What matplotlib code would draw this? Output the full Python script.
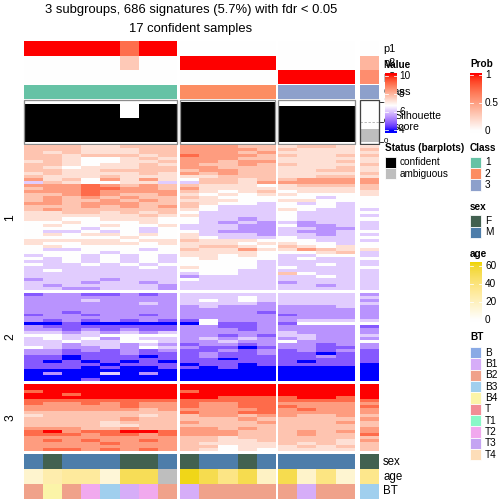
import numpy as np
import matplotlib
matplotlib.use("Agg")
import matplotlib.pyplot as plt
from matplotlib.colors import ListedColormap, Normalize
from matplotlib.patches import Rectangle

plt.rcParams['font.family'] = ['Liberation Sans', 'DejaVu Sans']

# ---------------- data ----------------
group_sizes = [8, 5, 4, 1]          # subgroup 1, 2, 3, ambiguous
sample_class = [1]*8 + [2]*5 + [3]*4 + [3]
p1 = [1, 1, 1, 1, 1, 0.72, 1, 1, 0, 0, 0, 0, 0, 0, 0, 0, 0, 0.0]
p2 = [0, 0, 0, 0, 0, 0.28, 0, 0, 1, 1, 1, 1, 1, 0, 0, 0, 0, 0.38]
p3 = [0, 0, 0, 0, 0, 0, 0, 0, 0, 0, 0, 0, 0, 1, 1, 1, 1, 0.58]
silhouette = [0.95, 0.95, 0.95, 0.95, 0.95, 0.60, 0.95, 0.95,
              1.0, 1.0, 1.0, 1.0, 1.0, 0.90, 0.90, 0.90, 0.90, 0.32]
status = ['confident']*17 + ['ambiguous']
sex = ['M', 'F', 'M', 'M', 'M', 'F', 'F', 'M', 'F', 'M', 'M', 'F', 'M', 'M', 'M', 'M', 'M', 'F']
age = [15, 25, 30, 30, 12, 50, 50, np.nan, 62, 52, 37, 52, 18, 52, 16, 38, 14, 35]
bt = ['B2', 'B4', 'B2', 'T2', 'B3', 'B1', 'T2', 'B2', 'B1', 'B2', 'B2', 'B2', 'B2',
      'B2', 'B1', 'B2', 'B2', 'B3']

# heatmap: each digit is an estimated value level (see level_values), groups split by spaces
level_values = [4.0, 4.75, 5.45, 6.1, 6.67, 7.2, 7.7, 8.35, 9.1, 10.0]
cluster1_rows = [
    "66655666 77766 5665 5", "66655566 77776 6555 6", "65655566 77767 5555 5",
    "66566656 87776 6556 6", "66544565 77766 5555 5", "56544556 77677 5556 5",
    "66545565 76676 6555 6", "65455566 77666 5556 5", "66556666 67766 5566 5",
    "56555565 76766 5555 6", "65556555 55666 5566 5", "75647575 46656 6777 7",
    "36544553 36657 7777 7", "77787676 65554 5666 6", "67788776 75555 5555 6",
    "77787777 65456 4555 5", "66787667 54545 5444 5", "67676766 65444 4434 4",
    "67667676 55544 5544 4", "77677766 65443 4343 4", "66676767 64333 4443 4",
    "67666666 54333 5433 3", "55665656 43333 4333 4", "55555565 53333 4333 3",
    "55445554 43323 4333 4", "44544454 43232 3233 3", "45445445 33322 4223 3",
    "44434434 33322 3322 3", "43343434 43222 3223 4", "45455454 53332 3323 3",
    "44444544 54333 4333 4", "55555455 65554 4433 3", "54455545 55545 5443 4",
    "45444444 56654 6545 4", "43344434 65575 5765 5", "44443444 55554 4456 3",
    "34434343 55454 3344 3", "43434343 45444 3433 4", "33434343 44443 3333 3",
    "43343434 44443 3343 3", "33333343 54443 4333 4", "34333333 44433 3333 3",
    "33333333 34433 6433 3", "33333333 23333 3343 3", "23332333 43333 3333 3",
    "33323323 33333 2333 3", "32333332 33333 3323 3", "33223332 33333 3333 3",
]
cluster2_rows = [
    "12211212 33333 3333 2", "22222222 33343 3333 3", "22232222 34343 3333 2",
    "22222232 33332 3333 3", "22222222 23222 2223 2", "22222222 22222 2222 2",
    "22122222 22221 2222 2", "12212212 22222 1222 2", "22222222 22222 2222 2",
    "21212121 14222 2333 3", "00100000 04112 1444 4", "21111111 22112 2222 1",
    "22121211 22212 2222 2", "33232323 22222 3222 2", "44334444 22121 3322 3",
    "34342433 23232 2322 2", "33433443 22322 4222 4", "33233232 12212 2212 2",
    "43223243 21101 2211 2", "22121212 11212 1212 1", "22111211 12112 1101 1",
    "11011101 12111 1121 1", "11011111 11011 1111 1", "10101010 11111 1011 1",
    "11110111 01101 1111 0", "11101001 10100 0000 0", "00000000 00000 0000 0",
    "02003020 00000 0000 0", "00000000 00000 0000 0", "00010000 00000 0000 0",
]
cluster3_rows = [
    "99999999 99999 9999 9", "99999999 99999 9999 9", "89999999 89999 9999 9",
    "99899999 99999 9999 9", "99999999 99888 8998 9", "88888888 88888 8888 8",
    "87787877 87788 7777 7", "77777877 87788 8777 8", "77777767 77778 7877 7",
    "66666666 87788 7777 7", "56666656 67767 7667 6", "66666766 66676 6666 7",
    "66665666 76667 6667 6", "66665566 66666 6666 6", "77766766 77676 6666 7",
    "89788998 77766 6767 7", "88878878 77766 6766 8", "77777777 66566 6666 6",
    "78787787 66556 6665 7", "77778777 65555 6565 6", "77777777 66455 5656 6",
    "78878787 65454 5555 6",
]

class_colors = {1: '#66C2A5', 2: '#FC8D62', 3: '#8DA0CB'}
status_colors = {'confident': '#000000', 'ambiguous': '#BEBEBE'}
sex_colors = {'F': '#426150', 'M': '#4D7DAA'}
bt_levels = ['B', 'B1', 'B2', 'B3', 'B4', 'T', 'T1', 'T2', 'T3', 'T4']
bt_colors = {'B': '#8AAAE5', 'B1': '#D6ADF8', 'B2': '#F0A28A', 'B3': '#A0CFEE',
             'B4': '#FBF4A8', 'T': '#F28D96', 'T1': '#8AF8C8', 'T2': '#F1A9EE',
             'T3': '#C4A4F2', 'T4': '#FDDDB8'}

# ---------------- LAB colour ramps ----------------
_M = np.array([[0.4124564, 0.3575761, 0.1804375],
               [0.2126729, 0.7151522, 0.0721750],
               [0.0193339, 0.1191920, 0.9503041]])
_WHITE = np.array([0.95047, 1.0, 1.08883])


def srgb_to_lab(rgb):
    rgb = np.asarray(rgb, float)
    lin = np.where(rgb <= 0.04045, rgb / 12.92, ((rgb + 0.055) / 1.055) ** 2.4)
    t = (lin @ _M.T) / _WHITE
    d = 6 / 29
    f = np.where(t > d ** 3, np.cbrt(t), t / (3 * d * d) + 4 / 29)
    return np.stack([116 * f[..., 1] - 16, 500 * (f[..., 0] - f[..., 1]),
                     200 * (f[..., 1] - f[..., 2])], -1)


def lab_to_srgb(lab):
    fy = (lab[..., 0] + 16) / 116
    f = np.stack([fy + lab[..., 1] / 500, fy, fy - lab[..., 2] / 200], -1)
    d = 6 / 29
    t = np.where(f > d, f ** 3, 3 * d * d * (f - 4 / 29))
    lin = np.clip((t * _WHITE) @ np.linalg.inv(_M).T, 0, 1)
    rgb = np.where(lin <= 0.0031308, 12.92 * lin, 1.055 * lin ** (1 / 2.4) - 0.055)
    return np.clip(rgb, 0, 1)


def hex2rgb(h):
    h = h.lstrip('#')
    return [int(h[i:i + 2], 16) / 255 for i in (0, 2, 4)]


def lab_cmap(positions, colors, n=256):
    labs = srgb_to_lab(np.array([hex2rgb(c) for c in colors]))
    xs = np.linspace(0, 1, n)
    out = np.zeros((n, 3))
    for i, x in enumerate(xs):
        j = np.searchsorted(positions, x, side='right') - 1
        j = min(max(j, 0), len(positions) - 2)
        t = (x - positions[j]) / (positions[j + 1] - positions[j])
        out[i] = labs[j] * (1 - t) + labs[j + 1] * t
    return ListedColormap(lab_to_srgb(out))


VMIN, VMAX, VMID = 4.0, 10.0, 6.67
value_cmap = lab_cmap([0, (VMID - VMIN) / (VMAX - VMIN), 1], ['#0000FF', '#FFFFFF', '#FF0000'])
value_norm = Normalize(VMIN, VMAX)
prob_cmap = lab_cmap([0, 1], ['#FFFFFF', '#FF0000'])
prob_norm = Normalize(0, 1)
age_cmap = lab_cmap([0, 1], ['#FFFFFF', '#EFD500'])
age_norm = Normalize(0, 64)


def parse(rows):
    return np.array([[level_values[int(c)] for c in r.replace(' ', '')] for r in rows], float)


clusters = [parse(cluster1_rows), parse(cluster2_rows), parse(cluster3_rows)]

# ---------------- layout ----------------
W = H = 504
fig = plt.figure(figsize=(7, 7), dpi=72)


def add_ax(x0, y0, x1, y1, z=0, label=None):
    ax = fig.add_axes([x0 / W, 1 - y1 / H, (x1 - x0) / W, (y1 - y0) / H], label=label)
    ax.set_axis_off()
    ax.set_zorder(z)
    return ax


bg = fig.add_axes([0, 0, 1, 1], label='bg')
bg.set_xlim(0, W); bg.set_ylim(H, 0); bg.set_axis_off(); bg.set_zorder(-5)
fg = fig.add_axes([0, 0, 1, 1], label='fg')
fg.set_xlim(0, W); fg.set_ylim(H, 0); fg.set_axis_off(); fg.set_zorder(10)


def txt(ax, x, y, s, size=10, weight='normal', ha='left', va='center', rot=0):
    ax.text(x, y, s, fontsize=size, fontweight=weight, ha=ha, va=va, rotation=rot)


col_x = [(24, 177), (180, 275), (278, 355), (360, 379)]
row_y = [(145, 290), (293, 381), (384, 451)]
starts = np.cumsum([0] + group_sizes[:-1])


def cat_img(values, cmap_dict):
    return np.array([[hex2rgb(cmap_dict[v]) for v in values]])


for g, (x0, x1) in enumerate(col_x):
    s, n = starts[g], group_sizes[g]
    sl = slice(s, s + n)
    # probability rows
    for (ya, yb), pv in zip([(41, 56), (56, 70), (70, 84)], [p1, p2, p3]):
        ax = add_ax(x0, ya, x1, yb)
        ax.imshow(np.array([pv[sl]]), cmap=prob_cmap, norm=prob_norm, aspect='auto',
                  interpolation='nearest')
    # class row
    ax = add_ax(x0, 85, x1, 99)
    ax.imshow(cat_img(sample_class[sl], class_colors), aspect='auto', interpolation='nearest')
    # silhouette barplot
    ax = add_ax(x0, 100, x1, 143.5)
    ax.set_xlim(0, n); ax.set_ylim(-0.05, 1.05)
    ax.axhline(0.5, color='#AAAAAA', lw=0.8, ls=(0, (3, 2)), zorder=0.5)
    ax.bar(np.arange(n) + 0.5, silhouette[sl], width=1.0,
           color=[status_colors[v] for v in status[sl]], zorder=1, linewidth=0)
    ax.add_patch(Rectangle((0, 0), 1, 1, transform=ax.transAxes, fill=False,
                           edgecolor='#444444' if g == 3 else '#8C8C8C', lw=1.3,
                           clip_on=False, zorder=3))
    # heatmap blocks
    for k, (ya, yb) in enumerate(row_y):
        ax = add_ax(x0, ya, x1, yb)
        ax.imshow(clusters[k][:, sl], cmap=value_cmap, norm=value_norm, aspect='auto',
                  interpolation='nearest')
    # bottom annotations
    ax = add_ax(x0, 454, x1, 468.5)
    ax.imshow(cat_img(sex[sl], sex_colors), aspect='auto', interpolation='nearest')
    ax = add_ax(x0, 469, x1, 483.5)
    ag = np.array(age[sl], float)
    rgba = age_cmap(age_norm(np.nan_to_num(ag)))[:, :3]
    rgba[np.isnan(ag)] = hex2rgb('#BEBEBE')
    ax.imshow(rgba[None], aspect='auto', interpolation='nearest')
    ax = add_ax(x0, 484, x1, 498.5)
    ax.imshow(cat_img(bt[sl], bt_colors), aspect='auto', interpolation='nearest')


# silhouette axis
def sil_y(v):
    return 143.5 - (v + 0.05) / 1.1 * 43.5


for v, lab in [(0, '0'), (0.5, '0.5'), (1, '1')]:
    bg.plot([379.5, 382.5], [sil_y(v), sil_y(v)], color='black', lw=0.8)
    txt(bg, 383.5, sil_y(v), lab, size=8)

# annotation names
for y, s in [(49, 'p1'), (63, 'p2'), (77, 'p3'), (92, 'Class')]:
    txt(bg, 383, y, s, size=11)
txt(bg, 394, 116, 'Silhouette', size=10.5)
txt(bg, 394, 127, 'score', size=10.5)
for y, s in [(462, 'sex'), (477, 'age'), (491, 'BT')]:
    txt(fg, 383, y, s, size=11.5)

# titles
txt(fg, 191, 10, '3 subgroups, 686 signatures (5.7%) with fdr < 0.05', size=13, ha='center')
txt(fg, 191, 29, '17 confident samples', size=13, ha='center')
for (ya, yb), s in zip(row_y, ['1', '2', '3']):
    txt(fg, 10, (ya + yb) / 2, s, size=12, ha='center', rot=90)


# ---------------- legends ----------------
def colorbar(x0, y0, x1, y1, vtop, vbot, cmap, norm, ticks, labels, lx):
    ax = add_ax(x0, y0, x1, y1, z=4)
    grad = np.linspace(vtop, vbot, 300)[:, None]
    ax.imshow(grad, cmap=cmap, norm=norm, aspect='auto', interpolation='bilinear',
              extent=(0, 1, vbot, vtop))
    ax.set_xlim(0, 1); ax.set_ylim(vbot, vtop)
    for t, lab in zip(ticks, labels):
        ax.plot([0, 0.22], [t, t], color='white', lw=0.8)
        ax.plot([0.78, 1], [t, t], color='white', lw=0.8)
        yy = y1 - (t - vbot) / (vtop - vbot) * (y1 - y0)
        txt(fg, lx, yy, lab, size=10)


txt(fg, 385, 65, 'Value', size=10, weight='bold')
colorbar(385, 73, 396.5, 133, 10.3, 3.7, value_cmap, value_norm,
         [10, 8, 6, 4], ['10', '8', '6', '4'], 399)
txt(fg, 470, 64, 'Prob', size=10, weight='bold')
colorbar(470, 73, 481.5, 133, 1.04, -0.04, prob_cmap, prob_norm,
         [1, 0.5, 0], ['1', '0.5', '0'], 485)
txt(fg, 470, 254, 'age', size=10, weight='bold')
colorbar(470, 262, 481.5, 322, 64.4, -2.2, age_cmap, age_norm,
         [60, 40, 20, 0], ['60', '40', '20', '0'], 485)

GRID = 11.34


def cat_legend(x, ytitle, title, labels, colors, ytop):
    txt(fg, x, ytitle, title, size=10, weight='bold')
    for i, (lab, c) in enumerate(zip(labels, colors)):
        y = ytop + i * GRID
        fg.add_patch(Rectangle((x, y), GRID, GRID, facecolor=c, edgecolor='white', lw=0.8))
        txt(fg, x + GRID + 3.5, y + GRID / 2, lab, size=10)


cat_legend(385, 148, 'Status (barplots)', ['confident', 'ambiguous'],
           [status_colors['confident'], status_colors['ambiguous']], 156.5)
cat_legend(470, 148, 'Class', ['1', '2', '3'], [class_colors[i] for i in (1, 2, 3)], 156.5)
cat_legend(470, 207, 'sex', ['F', 'M'], [sex_colors['F'], sex_colors['M']], 215.3)
cat_legend(470, 337, 'BT', bt_levels, [bt_colors[b] for b in bt_levels], 347)

fig.savefig('out.png', dpi=72)
